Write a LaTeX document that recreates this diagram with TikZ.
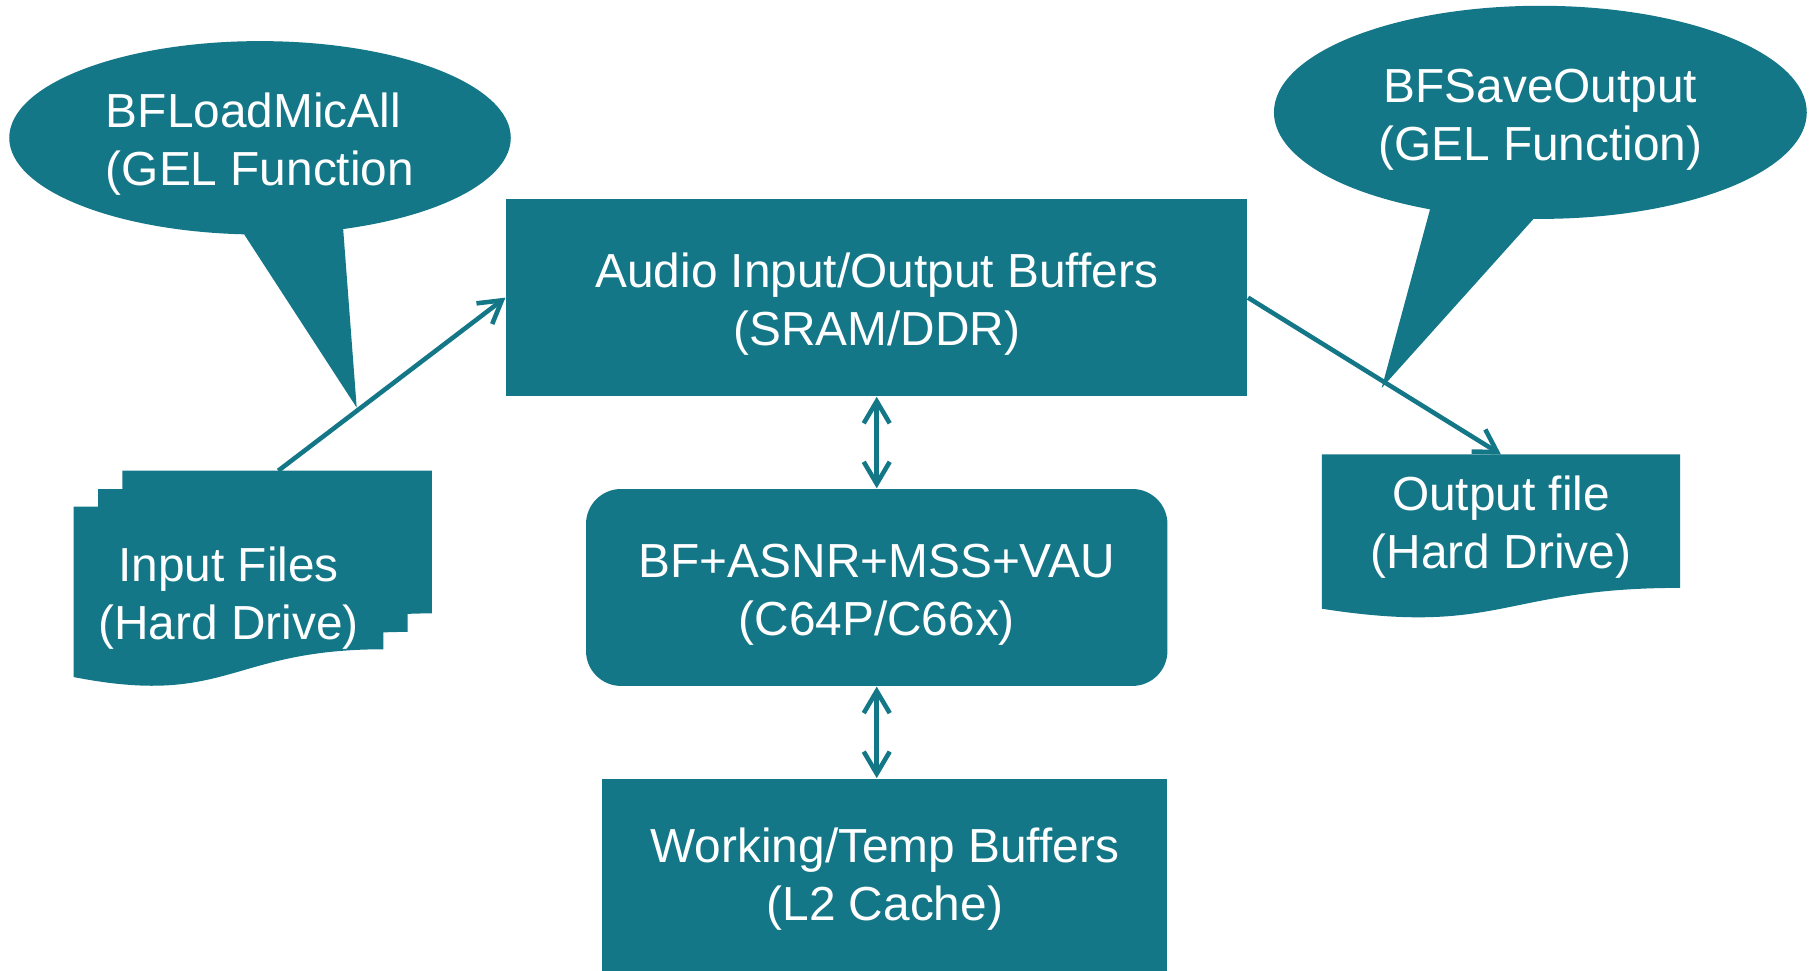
\documentclass[tikz,border=0pt]{standalone}
\usepackage{fontspec}
\setmainfont{Liberation Sans}
\usepackage{tikz}
\usetikzlibrary{arrows.meta, positioning, shapes.geometric, shapes.callouts}
\definecolor{dspteal}{RGB}{19,119,136}
\pgfdeclarelayer{background}
\pgfsetlayers{background,main}

\begin{document}
\begin{tikzpicture}[
        x=0.011582cm, y=-0.011582cm,
        txt/.style={
            text=white,
            inner sep=0pt,
            font=\fontsize{13.6}{16.5}\selectfont,
            align=center
        },
        lowered/.style={
            execute at begin node={\rule{0pt}{30pt}}
        },
        block/.style={
            txt,
            fill=dspteal
        },
        bubble/.style={
            block,
            lowered,
            ellipse callout,
            callout pointer arc=23
        },
        flow/.style={
            draw=dspteal,
            line width=1.3pt,
            -{Straight Barb[length=2.2mm, width=2.6mm]}
        },
        link/.style={
            flow,
            {Straight Barb[length=2.2mm, width=2.6mm]}-{Straight Barb[length=2.2mm, width=2.6mm]}
        }
    ]
    \useasboundingbox (0,0) rectangle (1568,838);

    % buffers and processing core
    \node[block, lowered, minimum width=7.412cm, minimum height=1.969cm] (audio) at (757,257)
        {Audio Input/Output Buffers\\(SRAM/DDR)};
    \node[block, lowered, rounded corners=0.35cm, minimum width=5.814cm, minimum height=1.969cm,
          below=0.915cm of audio] (core) {BF+ASNR+MSS+VAU\\(C64P/C66x)};
    \node[block, minimum width=5.652cm, minimum height=2.015cm,
          below=0.915cm of core, xshift=0.081cm] (work) {Working/Temp Buffers\\(L2 Cache)};

    % files on the hard drive
    \node[txt, lowered, minimum width=3.081cm, minimum height=1.691cm] (infiles) at (197.3,511)
        {Input Files\\(Hard Drive)};
    \node[txt, lowered, minimum width=3.567cm, minimum height=1.320cm] (outfile) at (1296,450)
        {Output file\\(Hard Drive)};
    \begin{pgfonlayer}{background}
        \foreach \dx/\dy in {42/-31, 21/-15, 0/0}
            \fill[dspteal] ([shift={(\dx,\dy)}]infiles.north west) -- ([shift={(\dx,\dy)}]infiles.north east)
                -- ([shift={(\dx,\dy-24)}]infiles.south east) .. controls +(-133,0) and +(133,26)
                .. ([shift={(\dx,\dy)}]infiles.south west) -- cycle;
        \fill[dspteal] (outfile.north west) -- (outfile.north east) -- (outfile.south east)
            .. controls +(-154,0) and +(154,24) .. ([shift={(0,18)}]outfile.south west) -- cycle;
    \end{pgfonlayer}

    % GEL helpers
    \node[bubble, minimum width=5.015cm, minimum height=1.934cm, align=left,
          callout absolute pointer={(308,352)}] (loadgel) at (224.5,119)
        {BFLoadMicAll\\(GEL Function};
    \node[bubble, minimum width=5.328cm, minimum height=2.131cm,
          callout absolute pointer={(1193,335)}] (savegel) at (1330,97)
        {BFSaveOutput\\(GEL Function)};

    \draw[flow] ([shift={(43,-31)}]infiles.north) -- (audio.west);
    \draw[flow] (audio.east) -- (outfile.north);
    \draw[link] (audio.south) -- (core.north);
    \draw[link] (core.south) -- (core.south |- work.north);
\end{tikzpicture}
\end{document}
